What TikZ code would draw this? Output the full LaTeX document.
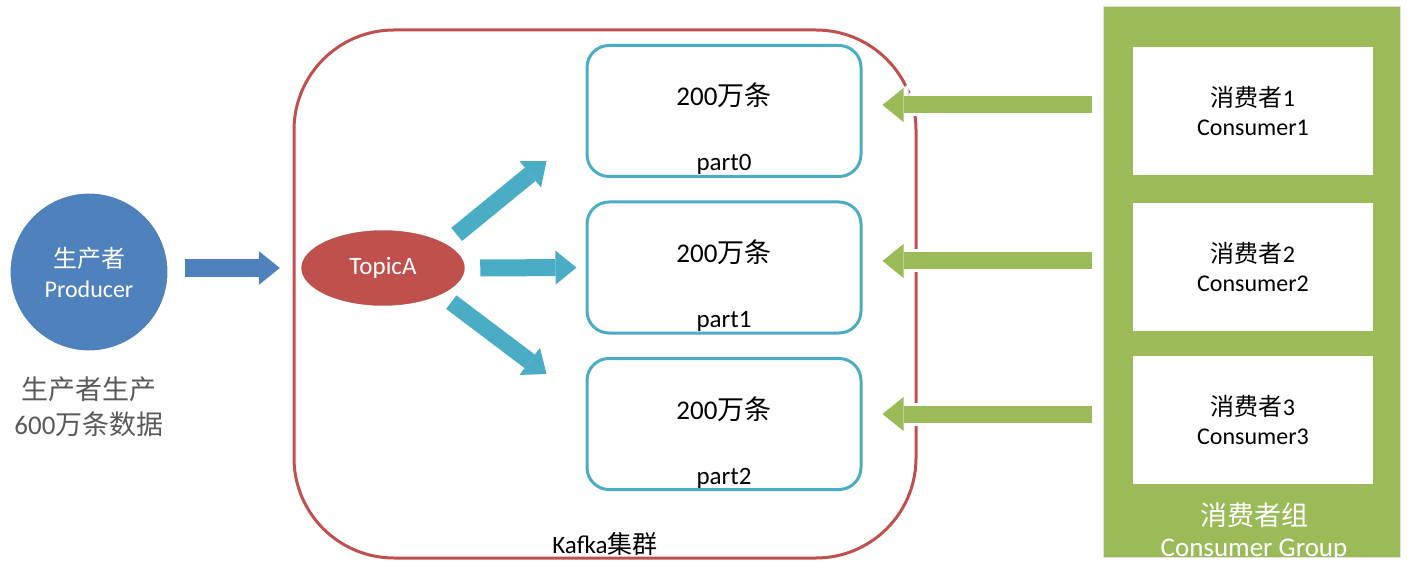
\documentclass[tikz,border=0pt]{standalone}
\usepackage{fontspec}
\setmainfont{Carlito}
\newfontfamily\cjk{Noto Sans CJK SC}
\usetikzlibrary{arrows.meta,shapes.geometric,calc}

\definecolor{prodblue}{HTML}{4F81BD}
\definecolor{kafkared}{HTML}{C0504D}
\definecolor{partcyan}{HTML}{4BACC6}
\definecolor{groupgreen}{HTML}{9BBB59}
\definecolor{notegray}{HTML}{595959}

\begin{document}
\begin{tikzpicture}[x=1pt,y=-1pt]

        % Define styles
        \tikzstyle{partbox} = [draw=partcyan, line width=3pt, rounded corners=22pt, minimum width=274pt, minimum height=131pt]
        \tikzstyle{consumer} = [fill=white, minimum width=240pt, minimum height=128pt, align=center, font=\fontsize{24}{29}\selectfont]
        \tikzstyle{fatarrow} = [line width=17pt, -{Triangle[width=34pt,length=21pt,line width=0pt]}, preaction={draw=white, line width=23pt, -{Triangle[width=42pt,length=26pt,line width=0pt]}}]
        \tikzstyle{greenarrow} = [fatarrow, draw=groupgreen, shorten <=41pt, shorten >=20pt]

        \useasboundingbox (0,0) rectangle (1418,569);

        % Producer
        \node[circle, fill=prodblue, draw=white, line width=3pt, minimum size=160pt, align=center, text=white, font=\fontsize{24}{30}\selectfont] (producer) at (89,272) {{\cjk 生产者}\\Producer};
        \node[align=center, text=notegray, font=\fontsize{27}{35}\selectfont] (note) at (89,407) {{\cjk 生产者生产}\\600{\cjk 万条数据}};

        % Kafka cluster
        \node[draw=kafkared, line width=3pt, rounded corners=100pt, minimum width=622pt, minimum height=528pt] (cluster) at (605,294) {};
        \node[font=\fontsize{25}{30}\selectfont] (clusterlabel) at (605,544) {Kafka{\cjk 集群}};

        % Topic
        \node[ellipse, fill=kafkared, draw=white, line width=2.5pt, minimum width=166pt, minimum height=78pt, text=white, font=\fontsize{25}{30}\selectfont] (topic) at (383,268) {TopicA};

        % Partitions
        \foreach \i/\y in {0/111,1/267.5,2/424} {
            \node[partbox] (part\i) at (724,\y) {};
            \node[anchor=base, font=\fontsize{27}{30}\selectfont] (count\i) at ([yshift=5pt]part\i.center) {200{\cjk 万条}};
            \node[anchor=base, font=\fontsize{25}{30}\selectfont] (name\i) at ([yshift=7pt]part\i.south) {part\i};
        }

        % Consumer group
        \node[fill=groupgreen, draw=black!12, line width=1pt, minimum width=297pt, minimum height=550pt] (group) at (1251.5,282) {};
        \foreach \i/\y in {1/111,2/267,3/420}
            \node[consumer] (consumer\i) at (1253,\y) {{\cjk 消费者}\i\\Consumer\i};
        \node[text=white, font=\cjk\fontsize{27}{32}\selectfont] (grouplabel) at (1254,515) {消费者组};
        \begin{scope}
            \clip (group.south west) rectangle (group.north east);
            \node[anchor=base, text=white, font=\fontsize{27}{32}\selectfont] (groupname) at (1254,556) {Consumer Group};
        \end{scope}

        % Producer to topic
        \draw[fatarrow, draw=prodblue, shorten <=14pt, shorten >=19pt] (producer.east |- topic.west) -- (topic.west);

        % Topic to partitions
        \coordinate (tip0) at ($(part0.south west)+(-39,-17)$);
        \coordinate (tip2) at ($(part2.north west)+(-39,17)$);
        \draw[fatarrow, draw=partcyan, shorten <=12pt] (topic.22) -- (tip0);
        \draw[fatarrow, draw=partcyan, shorten <=13pt, shorten >=9pt] (topic.east) -- (part1.west);
        \draw[fatarrow, draw=partcyan, shorten <=10pt] (topic.-25) -- (tip2);

        % Consumers to partitions
        \foreach \i/\n in {1/0,2/1,3/2}
            \draw[greenarrow] ([yshift=6pt]consumer\i.west) -- ([yshift=6pt]consumer\i.west -| part\n.east);

    \end{tikzpicture}
\end{document}
